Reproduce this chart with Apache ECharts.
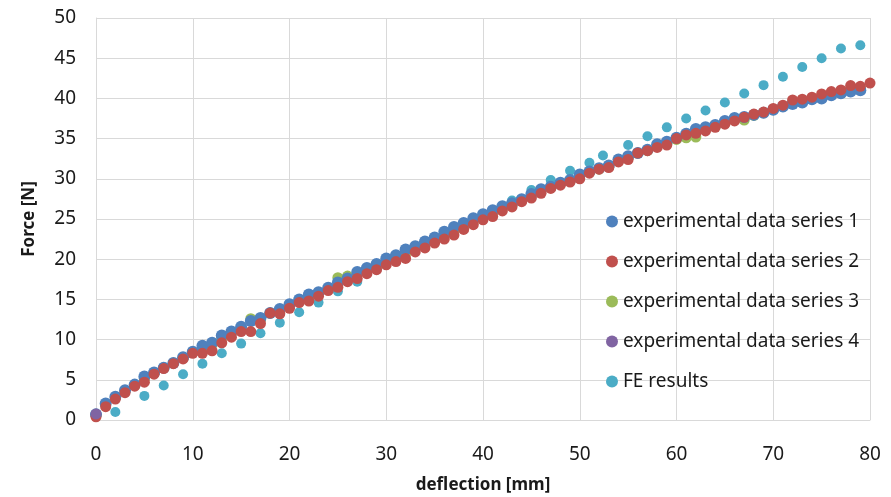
<!DOCTYPE html>
<html>
<head>
<meta charset="utf-8">
<script src="https://cdn.jsdelivr.net/npm/echarts@6/dist/echarts.min.js"></script>
<style>
  html, body { margin: 0; padding: 0; background: #fff; }
  #chart { width: 891px; height: 497px; }
</style>
</head>
<body>
<div id="chart"></div>
<script>
// deflection [mm] for the experimental series: one reading per mm
var xSeries1 = []
for (var i = 0; i <= 79; i++) xSeries1.push(i)
var xSeries2 = []
for (var i = 0; i <= 80; i++) xSeries2.push(i)
var xSeries3 = xSeries1

// force [N]
var force1 = [0.7, 2.05, 2.9, 3.7, 4.4, 5.4, 5.9, 6.5, 7.1, 7.8,
  8.5, 9.25, 9.6, 10.5, 11.0, 11.6, 12.3, 12.7, 13.3, 13.8,
  14.4, 15.0, 15.6, 15.9, 16.45, 17.1, 17.6, 18.4, 18.9, 19.4,
  20.1, 20.5, 21.2, 21.6, 22.2, 22.7, 23.4, 24.0, 24.5, 25.1,
  25.6, 26.1, 26.6, 26.95, 27.45, 28.1, 28.7, 29.0, 29.5, 29.85,
  30.55, 30.9, 31.3, 31.65, 32.4, 32.8, 33.2, 33.6, 34.3, 34.6,
  35.1, 35.6, 36.2, 36.4, 36.7, 37.2, 37.55, 37.7, 37.95, 38.2,
  38.6, 39.0, 39.3, 39.5, 39.9, 40.0, 40.4, 40.65, 40.85, 41.0]

var force2 = [0.4, 1.65, 2.6, 3.4, 4.2, 4.7, 5.7, 6.4, 7.0, 7.6,
  8.3, 8.3, 8.6, 9.6, 10.3, 11.0, 11.0, 12.0, 13.3, 13.2,
  13.9, 14.6, 14.8, 15.4, 16.1, 16.5, 17.2, 17.6, 18.2, 18.7,
  19.3, 19.7, 20.1, 20.9, 21.4, 22.0, 22.5, 23.0, 23.7, 24.3,
  24.9, 25.3, 26.0, 26.5, 27.15, 27.6, 28.2, 28.8, 29.2, 29.6,
  30.0, 30.7, 31.2, 31.4, 32.1, 32.4, 33.2, 33.5, 33.9, 34.2,
  35.0, 35.45, 35.65, 35.95, 36.4, 36.8, 37.2, 37.65, 38.05, 38.3,
  38.75, 39.15, 39.8, 39.9, 40.15, 40.55, 40.85, 41.05, 41.6, 41.5,
  41.9]

var force3 = [0.6, 1.9, 2.8, 3.6, 4.3, 5.1, 5.8, 6.5, 7.1, 7.7,
  8.4, 9.0, 9.4, 10.2, 10.8, 11.4, 12.6, 12.5, 13.3, 13.6,
  14.2, 14.8, 15.3, 15.7, 16.3, 17.7, 17.9, 18.1, 18.6, 19.1,
  19.7, 20.1, 20.7, 21.3, 21.8, 22.4, 23.0, 23.5, 24.1, 24.7,
  25.3, 25.7, 26.3, 26.7, 27.3, 27.9, 28.5, 28.9, 29.4, 29.7,
  30.3, 30.8, 31.2, 31.5, 32.2, 32.6, 33.2, 33.5, 34.1, 34.4,
  34.9, 35.1, 35.2, 36.1, 36.5, 36.9, 37.3, 37.3, 37.9, 38.2,
  38.6, 39.0, 39.5, 39.7, 40.0, 40.3, 40.6, 40.8, 41.2, 41.2]

var xSeries4 = [0]
var force4 = [0.75]

var xFE = [2, 5, 7, 9, 11, 13, 15, 17, 19, 21, 23, 25, 27, 29, 31, 33, 35, 37, 39,
  41, 43, 45, 47, 49, 51, 52.4, 55, 57, 59, 61, 63, 65, 67, 69, 71, 73, 75, 77, 79]
var forceFE = [1.0, 3.0, 4.3, 5.7, 7.0, 8.3, 9.5, 10.8, 12.1, 13.4, 14.6, 16.0, 17.2,
  18.7, 20.0, 21.2, 22.4, 23.6, 24.8, 26.1, 27.3, 28.6, 29.85, 31.0, 32.0, 32.9,
  34.2, 35.3, 36.4, 37.5, 38.5, 39.5, 40.6, 41.65, 42.7, 43.9, 45.0, 46.2, 46.6]

var names = ['experimental data series 1', 'experimental data series 2',
  'experimental data series 3', 'experimental data series 4', 'FE results']

function pairs(xs, ys) {
  var out = []
  for (var i = 0; i < ys.length; i++) out.push([xs[i], ys[i]])
  return out
}

var chart = echarts.init(document.getElementById('chart'), null, { renderer: 'canvas' })
var font = 'Noto Sans'

var option = {
  animation: false,
  backgroundColor: '#fff',
  grid: { left: 96, right: 21, top: 18, bottom: 77, containLabel: false, outerBoundsMode: 'none' },
  legend: {
    orient: 'vertical',
    left: 601,
    top: 207,
    itemGap: 21,
    itemWidth: 12,
    itemHeight: 12,
    icon: 'circle',
    data: names,
    textStyle: { fontFamily: font, fontSize: 19, color: '#1a1a1a' }
  },
  xAxis: {
    type: 'value',
    min: 0, max: 80, interval: 10,
    name: 'deflection [mm]',
    nameLocation: 'middle',
    nameGap: 57,
    nameTextStyle: { fontFamily: font, fontSize: 17, fontWeight: 'bold', color: '#1a1a1a' },
    axisLine: { show: true, lineStyle: { color: '#d9d9d9' } },
    axisTick: { show: false },
    axisLabel: { fontFamily: font, fontSize: 19, color: '#1a1a1a', margin: 25 },
    splitLine: { show: true, lineStyle: { color: '#d9d9d9', width: 1 } }
  },
  yAxis: {
    type: 'value',
    min: 0, max: 50, interval: 5,
    name: 'Force [N]',
    nameLocation: 'middle',
    nameGap: 58,
    nameTextStyle: { fontFamily: font, fontSize: 17, fontWeight: 'bold', color: '#1a1a1a' },
    axisLine: { show: true, lineStyle: { color: '#d9d9d9' } },
    axisTick: { show: false },
    axisLabel: { fontFamily: font, fontSize: 19, color: '#1a1a1a', margin: 20 },
    splitLine: { show: true, lineStyle: { color: '#d9d9d9', width: 1 } }
  },
  // drawing order: FE under everything, series 4 on top
  series: [
    { name: names[4], type: 'scatter', symbolSize: 10, itemStyle: { color: '#4BACC6', opacity: 1 },
      data: pairs(xFE, forceFE) },
    { name: names[2], type: 'scatter', symbolSize: 11, itemStyle: { color: '#9BBB59', opacity: 1 },
      data: pairs(xSeries3, force3) },
    { name: names[0], type: 'scatter', symbolSize: 12, itemStyle: { color: '#4F81BD', opacity: 1 },
      data: pairs(xSeries1, force1) },
    { name: names[1], type: 'scatter', symbolSize: 11, itemStyle: { color: '#C0504D', opacity: 1 },
      data: pairs(xSeries2, force2) },
    { name: names[3], type: 'scatter', symbolSize: 11, itemStyle: { color: '#8064A2', opacity: 1 },
      data: pairs(xSeries4, force4) }
  ]
}
chart.setOption(option)
</script>
</body>
</html>
